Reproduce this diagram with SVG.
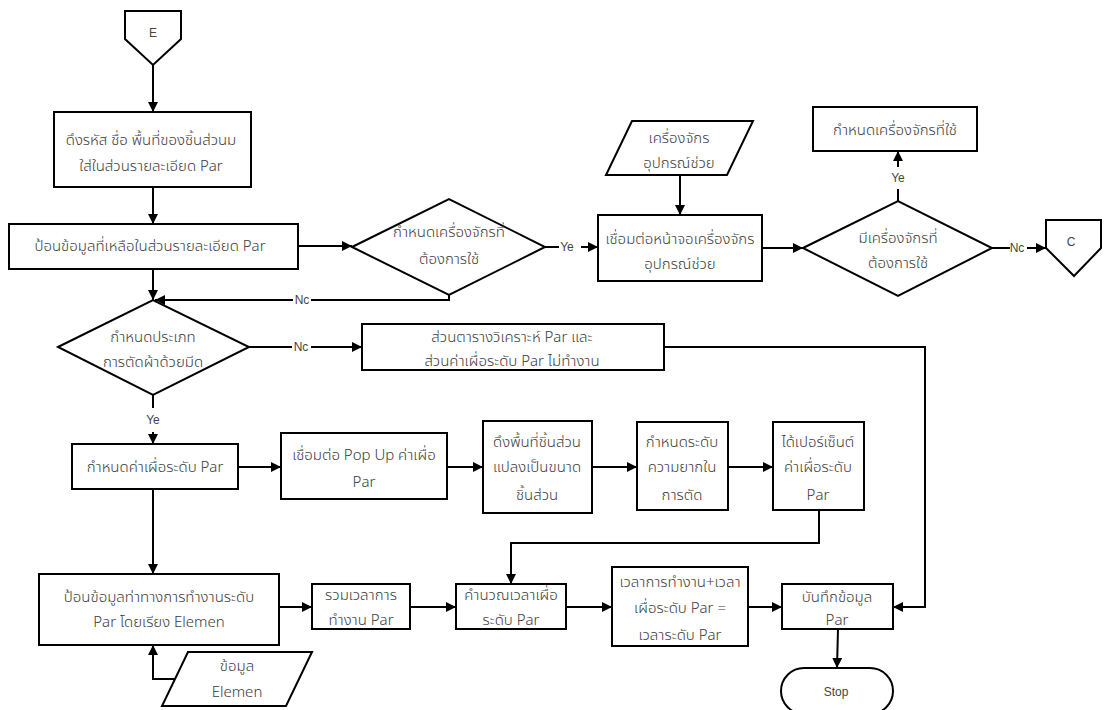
<svg xmlns="http://www.w3.org/2000/svg" width="1113" height="710" viewBox="0 0 1113 710">
<defs>
<marker id="ah" viewBox="0 0 10 10" refX="10" refY="5" markerWidth="10" markerHeight="10" markerUnits="userSpaceOnUse" orient="auto">
<path d="M0,0 L10,5 L0,10 z" fill="#000"/>
</marker>
<style>
.s{fill:#fff;stroke:#000;stroke-width:2}
.t{font-family:"Noto Sans Thai","Noto Sans","DejaVu Sans",sans-serif;font-size:15px;font-weight:300;fill:#3c3c3c;text-anchor:middle;dominant-baseline:central}
.c{fill:none;stroke:#000;stroke-width:2}
.a{fill:none;stroke:#000;stroke-width:2;marker-end:url(#ah)}
.l{font-family:"Liberation Sans","DejaVu Sans",sans-serif;font-size:12px;fill:#444;text-anchor:middle;dominant-baseline:central}
</style>
</defs>
<rect width="1113" height="710" fill="#fff"/>
<g id="connectors">
<path class="a" d="M153,65 V112"/>
<path class="a" d="M153,187 V224"/>
<path class="a" d="M298,246 H352"/>
<path class="c" d="M545,247 H559"/>
<text class="l" x="567" y="247">Ye</text>
<path class="a" d="M581,247 H598"/>
<path class="a" d="M680,175 V215"/>
<path class="a" d="M762,248 H803"/>
<path class="c" d="M898,201 V189"/>
<text class="l" x="898" y="178">Ye</text>
<path class="a" d="M898,167 V151"/>
<path class="c" d="M992,248 H1010"/>
<text class="l" x="1017" y="248">Nc</text>
<path class="a" d="M1027,248 H1046"/>
<path class="c" d="M449,295 V300 H311"/>
<text class="l" x="302" y="300">Nc</text>
<path class="a" d="M293,300 H155"/>
<path class="a" d="M153,269 V300"/>
<path class="c" d="M249,347 H292"/>
<text class="l" x="301" y="347">Nc</text>
<path class="a" d="M311,347 H362"/>
<path class="c" d="M153,395 V408"/>
<text class="l" x="153" y="420">Ye</text>
<path class="a" d="M153,432 V444"/>
<path class="a" d="M238,467 H281"/>
<path class="a" d="M447,467 H483"/>
<path class="a" d="M592,467 H637"/>
<path class="a" d="M728,467 H773"/>
<path class="a" d="M819,510 V543 H511 V584"/>
<path class="a" d="M153,489 V574"/>
<path class="a" d="M279,607 H312"/>
<path class="a" d="M410,607 H456"/>
<path class="a" d="M566,607 H612"/>
<path class="a" d="M748,607 H782"/>
<path class="a" d="M664,347 H925 V607 H893"/>
<path class="a" d="M838,629 L837,668"/>
<path class="a" d="M175,679 H153 V645"/>
</g>
<g id="n_E">
<polygon class="s" points="125,11 181,11 181,39 153,65 125,39"/>
<text class="l" x="153" y="33" font-size="13">E</text>
</g>
<g id="n_box1">
<rect class="s" x="54" y="112" width="197" height="75"/>
<text class="t" x="151" y="140">ดึงรหัส ชื่อ พื้นที่ของชิ้นส่วนม</text>
<text class="t" x="151" y="166">ใส่ในส่วนรายละเอียด Par</text>
</g>
<g id="n_box2">
<rect class="s" x="9" y="224" width="289" height="45"/>
<text class="t" x="150" y="246">ป้อนข้อมูลที่เหลือในส่วนรายละเอียด Par</text>
</g>
<g id="n_dec1">
<polygon class="s" points="352,247 449,199 545,247 449,295"/>
<text class="t" x="449" y="232">กำหนดเครื่องจักรที่</text>
<text class="t" x="449" y="259">ต้องการใช้</text>
</g>
<g id="n_in1">
<polygon class="s" points="632,121 753,121 727,175 606,175"/>
<text class="t" x="679" y="138">เครื่องจักร</text>
<text class="t" x="679" y="163">อุปกรณ์ช่วย</text>
</g>
<g id="n_box3">
<rect class="s" x="598" y="215" width="164" height="66"/>
<text class="t" x="680" y="239">เชื่อมต่อหน้าจอเครื่องจักร</text>
<text class="t" x="680" y="264">อุปกรณ์ช่วย</text>
</g>
<g id="n_dec2">
<polygon class="s" points="803,248 898,201 992,248 898,296"/>
<text class="t" x="898" y="238">มีเครื่องจักรที่</text>
<text class="t" x="898" y="263">ต้องการใช้</text>
</g>
<g id="n_box4">
<rect class="s" x="813" y="107" width="164" height="44"/>
<text class="t" x="895" y="130">กำหนดเครื่องจักรที่ใช้</text>
</g>
<g id="n_C">
<polygon class="s" points="1046,220 1101,220 1101,248 1074,276 1046,248"/>
<text class="l" x="1071" y="242" font-size="13">C</text>
</g>
<g id="n_dec3">
<polygon class="s" points="58,347 153,300 249,347 153,395"/>
<text class="t" x="153" y="337">กำหนดประเภท</text>
<text class="t" x="153" y="362">การตัดผ้าด้วยมีด</text>
</g>
<g id="n_box6">
<rect class="s" x="362" y="324" width="302" height="46"/>
<text class="t" x="512" y="337">ส่วนตารางวิเคราะห์ Par และ</text>
<text class="t" x="512" y="361">ส่วนค่าเผื่อระดับ Par ไม่ทำงาน</text>
</g>
<g id="n_box5">
<rect class="s" x="72" y="444" width="166" height="45"/>
<text class="t" x="155" y="467">กำหนดค่าเผื่อระดับ Par</text>
</g>
<g id="n_popup">
<rect class="s" x="281" y="433" width="166" height="66"/>
<text class="t" x="364" y="455">เชื่อมต่อ Pop Up ค่าเผื่อ</text>
<text class="t" x="364" y="482">Par</text>
</g>
<g id="n_area">
<rect class="s" x="483" y="421" width="109" height="92"/>
<text class="t" x="537" y="442">ดึงพื้นที่ชิ้นส่วน</text>
<text class="t" x="537" y="467">แปลงเป็นขนาด</text>
<text class="t" x="537" y="495">ชิ้นส่วน</text>
</g>
<g id="n_level">
<rect class="s" x="637" y="422" width="91" height="88"/>
<text class="t" x="682" y="442">กำหนดระดับ</text>
<text class="t" x="682" y="467">ความยากใน</text>
<text class="t" x="682" y="495">การตัด</text>
</g>
<g id="n_percent">
<rect class="s" x="773" y="422" width="91" height="88"/>
<text class="t" x="818" y="442">ได้เปอร์เซ็นต์</text>
<text class="t" x="818" y="467">ค่าเผื่อระดับ</text>
<text class="t" x="818" y="495">Par</text>
</g>
<g id="n_box7">
<rect class="s" x="39" y="574" width="240" height="71"/>
<text class="t" x="159" y="597">ป้อนข้อมูลท่าทางการทำงานระดับ</text>
<text class="t" x="159" y="622">Par โดยเรียง Elemen</text>
</g>
<g id="n_in2">
<polygon class="s" points="188,652 312,652 286,706 162,706"/>
<text class="t" x="237" y="666">ข้อมูล</text>
<text class="t" x="237" y="692">Elemen</text>
</g>
<g id="n_sum">
<rect class="s" x="312" y="584" width="98" height="45"/>
<text class="t" x="361" y="595">รวมเวลาการ</text>
<text class="t" x="361" y="620">ทำงาน Par</text>
</g>
<g id="n_calc">
<rect class="s" x="456" y="584" width="110" height="45"/>
<text class="t" x="511" y="595">คำนวณเวลาเผื่อ</text>
<text class="t" x="511" y="620">ระดับ Par</text>
</g>
<g id="n_time">
<rect class="s" x="612" y="567" width="136" height="79"/>
<text class="t" x="680" y="582">เวลาการทำงาน+เวลา</text>
<text class="t" x="680" y="608">เผื่อระดับ Par =</text>
<text class="t" x="680" y="635">เวลาระดับ Par</text>
</g>
<g id="n_save">
<rect class="s" x="782" y="584" width="111" height="45"/>
<text class="t" x="837" y="597">บันทึกข้อมูล</text>
<text class="t" x="837" y="620">Par</text>
</g>
<g id="n_stop">
<rect class="s" x="781" y="668" width="112" height="46" rx="23" ry="23"/>
<text class="l" x="836" y="692" font-size="13">Stop</text>
</g>
</svg>
